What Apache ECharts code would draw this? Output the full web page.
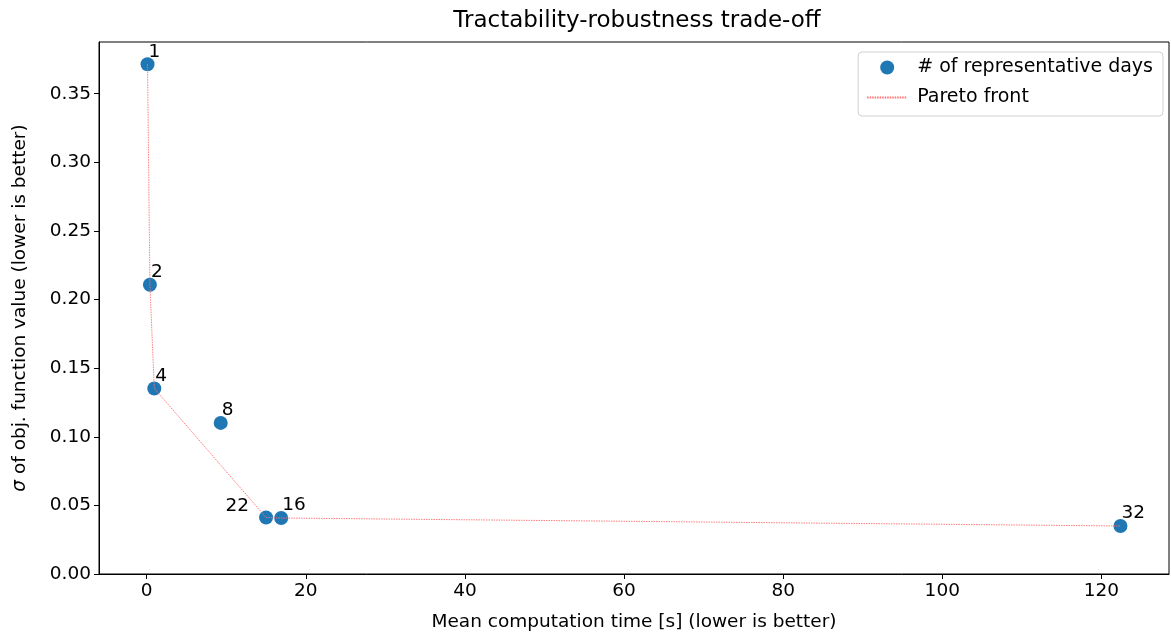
<!DOCTYPE html>
<html>
<head>
<meta charset="utf-8">
<script src="https://cdn.jsdelivr.net/npm/echarts@6/dist/echarts.min.js"></script>
<style>
html,body{margin:0;padding:0;background:#fff;}
#chart{width:1171px;height:638px;}
</style>
</head>
<body>
<div id="chart"></div>
<script>
// Data
const dayLabels = ['1', '2', '4', '8', '22', '16', '32'];
const meanTime = [0.1, 0.4, 0.95, 9.3, 15.0, 16.9, 122.4];
const sigmaObj = [0.3715, 0.2108, 0.1352, 0.1101, 0.0412, 0.0408, 0.0350];
const paretoLabels = ['1', '2', '4', '22', '16', '32'];
const xTicks = [0, 20, 40, 60, 80, 100, 120];
const yTicks = [0.00, 0.05, 0.10, 0.15, 0.20, 0.25, 0.30, 0.35];

const FONT = 'DejaVu Sans';
const FS = 18.5;
const labelLeft = {'22': true};

const scatterData = dayLabels.map((d, i) => {
  const left = !!labelLeft[d];
  return {
    name: d,
    value: [meanTime[i], sigmaObj[i]],
    label: {
      show: true,
      position: 'inside',
      formatter: d,
      align: left ? 'right' : 'left',
      verticalAlign: 'bottom',
      offset: left ? [-17, -2] : [1, -3],
      fontFamily: FONT,
      fontSize: FS,
      color: '#000'
    }
  };
});

const paretoData = paretoLabels.map(d => {
  const i = dayLabels.indexOf(d);
  return [meanTime[i], sigmaObj[i]];
});

const chart = echarts.init(document.getElementById('chart'), null, {renderer: 'canvas'});
chart.setOption({
  animation: false,
  backgroundColor: '#fff',
  title: {
    text: 'Tractability-robustness trade-off',
    left: 632, top: 5, textAlign: 'center',
    textStyle: {fontFamily: FONT, fontSize: 23, fontWeight: 'normal', color: '#000'}
  },
  grid: {
    left: 99, right: 2, top: 42, bottom: 64,
    outerBoundsMode: 'none',
    containLabel: false,
    show: true, borderColor: '#000', borderWidth: 1, backgroundColor: 'transparent'
  },
  legend: {
    orient: 'vertical',
    right: 8, top: 52,
    padding: [6, 10, 9, 8],
    itemWidth: 40, itemHeight: 14, itemGap: 11,
    borderColor: '#d0d0d0', borderWidth: 1, borderRadius: 4,
    textStyle: {fontFamily: FONT, fontSize: 19, color: '#000', padding: [0, 0, 0, 5]},
    data: [
      {name: '# of representative days', icon: 'circle'},
      {name: 'Pareto front', itemStyle: {opacity: 0}}
    ]
  },
  xAxis: {
    type: 'value',
    min: -6, max: 128.5,
    name: 'Mean computation time [s] (lower is better)',
    nameLocation: 'middle', nameGap: 39,
    nameTextStyle: {fontFamily: FONT, fontSize: FS, color: '#000'},
    axisLine: {show: true, onZero: false, lineStyle: {color: '#000', width: 1}},
    axisTick: {show: true, length: 5, inside: false, customValues: xTicks, lineStyle: {color: '#000'}},
    axisLabel: {customValues: xTicks, fontFamily: FONT, fontSize: FS, color: '#000', margin: 8},
    splitLine: {show: false}
  },
  yAxis: {
    type: 'value',
    min: 0, max: 0.3877,
    name: '{s|σ} of obj. function value (lower is better)',
    nameLocation: 'middle', nameGap: 69, nameRotate: 90,
    nameTextStyle: {fontFamily: FONT, fontSize: FS, color: '#000',
      rich: {s: {fontFamily: FONT, fontSize: FS, fontStyle: 'italic', color: '#000'}}},
    axisLine: {show: true, onZero: false, lineStyle: {color: '#000', width: 1}},
    axisTick: {show: true, length: 5, customValues: yTicks, lineStyle: {color: '#000'}},
    axisLabel: {customValues: yTicks, fontFamily: FONT, fontSize: FS, color: '#000', margin: 8,
      formatter: v => v.toFixed(2)},
    splitLine: {show: false}
  },
  series: [
    {
      name: 'Pareto front',
      type: 'line',
      data: paretoData,
      symbol: 'none',
      z: 3,
      lineStyle: {color: '#ff7070', width: 0.9, type: [1.5, 1]},
      itemStyle: {color: '#ff7070'}
    },
    {
      name: '# of representative days',
      type: 'scatter',
      data: scatterData,
      symbolSize: 14,
      z: 2,
      itemStyle: {color: '#1f77b4', opacity: 1}
    }
  ]
});
</script>
</body>
</html>
